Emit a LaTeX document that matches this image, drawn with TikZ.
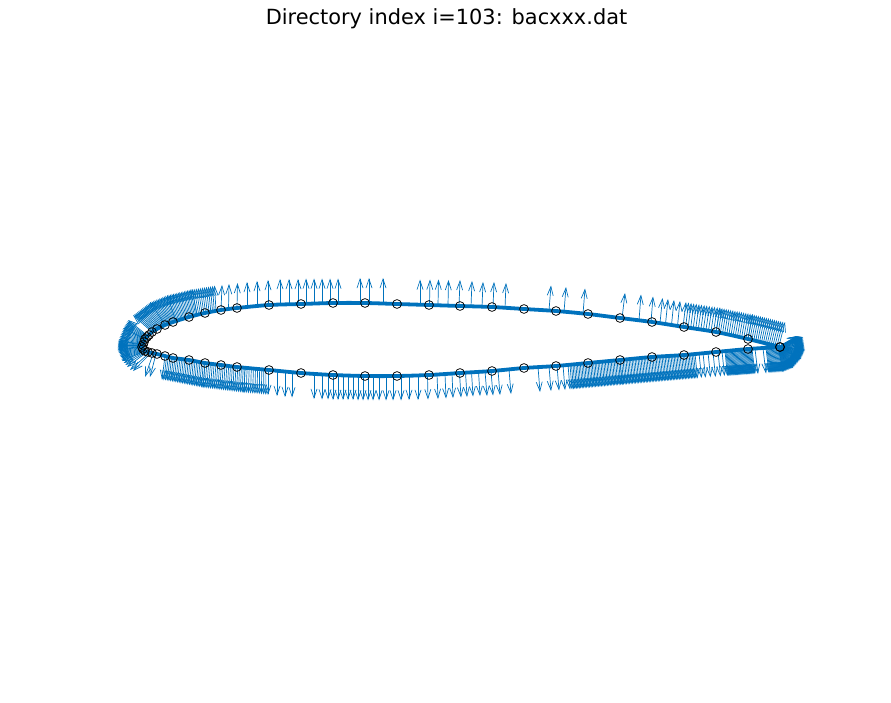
\documentclass[tikz,border=0pt]{standalone}
\usepackage{fontspec}
\setmainfont{DejaVu Sans}
\usetikzlibrary{arrows.meta}
\definecolor{mblue}{RGB}{0,114,189}
\tikzset{
 qarrow/.style={draw=mblue,line width=.7pt,-{Straight Barb[length=9pt,width=6pt,line width=.7pt]}},
 foil/.style={draw=mblue,line width=3.8pt,line join=round},
 mark circle/.style={draw=black,line width=.75pt,fill=none},
}
\newcommand\aseg[9]{%
 \foreach \i in {0,...,#9}{%
  \pgfmathsetmacro\tt{\i/#9}%
  \pgfmathsetmacro\ox{#1+(#5-#1)*\tt}%
  \pgfmathsetmacro\oy{#2+(#6-#2)*\tt}%
  \pgfmathsetmacro\vx{#3+(#7-#3)*\tt}%
  \pgfmathsetmacro\vy{#4+(#8-#4)*\tt}%
  \draw[qarrow] (\ox,\oy) -- ++(\vx,\vy);
 }}
\begin{document}
\begin{tikzpicture}[x=1pt,y=-1pt]
\useasboundingbox (0,0) rectangle (891,703);
\node[font=\fontsize{20.9}{24}\selectfont,text=black] (title) at (446.5,19) {Directory index i=103: bacxxx.dat};
% upper surface, dense leading edge
\aseg{152}{332}{-19}{-17}{165}{325}{-15}{-23}{13}
\aseg{165}{325}{-15}{-23}{176}{321}{-9}{-26}{11}
\aseg{176}{321}{-9}{-26}{197}{315}{-5}{-26}{16}
\aseg{197}{315}{-5}{-26}{216}{311}{-1.5}{-25.5}{11}
% upper surface, single arrows
\foreach \a/\b/\c/\d in {221/310.5/222/285,228.5/309/229/284,237/308/237.5/283,247/307/247/282,257/306/257/281,268/305/268/280,280/304.5/280/279,289/304/289/279,298/304/298/279,306/303.5/306/278.5,314/303/314/278.5,322/303/322/278.5,330/303/330/278.5,338/303/338/278.5,360/303/360/278,369/303/369/278,383/303.5/383/278,420/304.5/420/279.5,429.5/305/430/279.5,438/305/438.5/279.5,448/305.5/448.5/280,459/306/460/280,471/306.5/472/281,482/307/483/282,493/307.5/494/282,505/308/506/283,549/310.5/551/285.5,564/312/566/287,583/314/585/288.5,622/318.5/625/293,639/320.5/641/294.5,651/322/653/296.5,660/323/662.5/298,665.5/324/668/299,671.5/325/674/300,677.5/326/680/301}
 {\draw[qarrow] (\a,\b) -- (\c,\d);}
% upper surface, dense trailing edge
\aseg{683}{327}{3}{-25}{716}{332.5}{4}{-25}{13}
\aseg{716}{332.5}{4}{-25}{748}{339}{4.5}{-25}{15}
\aseg{748}{339}{4.5}{-25}{779}{346}{6}{-24}{16}
% leading edge fan
\aseg{148}{336}{-20}{-16}{145}{339}{-22}{-11}{6}
\aseg{145}{339}{-22}{-11}{143}{344}{-25}{-3}{8}
\aseg{143}{344}{-25}{-3}{142.5}{347}{-25}{3}{8}
\aseg{142.5}{347}{-25}{3}{145}{351}{-23}{10}{8}
\aseg{145}{351}{-23}{10}{147}{352}{-20}{15}{3}
\foreach \a/\b/\c/\d in {150/352.5/130/370,151/353/133/371,153/354/145/377,156/354/150/377}
 {\draw[qarrow] (\a,\b) -- (\c,\d);}
% lower surface, dense part
\aseg{165}{356}{-3}{24}{205}{363}{-2}{25}{24}
\aseg{205}{363}{-2}{25}{245}{368}{-1}{25}{22}
\aseg{245}{368}{-1}{25}{268}{370}{0}{25}{11}
% lower surface, single arrows
\foreach \a/\b/\c/\d in {277/371/277/396,285/372/285/397,292/372.5/292/397.5,314/374.5/314/399,322/375/322/399.5,328/375/328/399.5,333/375/333/400,338/375/338/400,343/375.5/343/400,348/375.5/348/400,353/375.5/353/400,358/376/358/400.5,363/376/363/400.5,368/376/368/400.5,373/376/373/400.5,379/376/379/400.5,386/376/386/400.5,393/376/393/400.5,401/376/401/400.5,409/375.5/409/400,418/375.5/418/400,427.5/375/428/399.5,437/374.5/438/399,445/374/446/398.5,452/373.5/453/398,459.5/373/461/397.5,465.5/372.5/467/397,471.5/372/473/396.5,478.5/371.5/480/396,485/371/487/396,491/371/493/395.5,498/370/500/395,509/369.5/511/394,538/367/540/392,549/366/551/391,557/365.5/559/390.5,563/365/565/390,568/364.5/570/389.5}
 {\draw[qarrow] (\a,\b) -- (\c,\d);}
% lower surface, aft part
\aseg{570}{364.5}{2}{25}{620}{360}{2.2}{25}{34}
\aseg{620}{360}{2.2}{25}{695}{353.5}{2.5}{25}{50}
\foreach \a/\b/\c/\d in {699/353/701.5/378,703/352.7/705.5/377.7,708/352.3/710.5/377.3,713/352/715.5/377,718/351.5/720.5/376.5,722/351/724.5/376}
 {\draw[qarrow] (\a,\b) -- (\c,\d);}
\aseg{725}{351}{2.5}{25}{752}{349}{3}{25}{30}
\foreach \a/\b/\c/\d in {755/349/758/374,763/348.5/766/373.5}
 {\draw[qarrow] (\a,\b) -- (\c,\d);}
\aseg{766}{348}{3}{25}{778}{347}{5}{25}{14}
% trailing edge fan
\aseg{778}{347}{5}{25}{778}{347}{15}{21}{12}
\aseg{778}{347}{15}{21}{778}{347}{23}{12}{12}
\aseg{778}{347}{23}{12}{778}{347}{27}{3}{12}
\aseg{778}{347}{27}{3}{778}{347}{25}{-10}{14}
\aseg{778}{347}{25}{-10}{778}{347}{19}{-11}{8}
% airfoil outline
\draw[foil] plot[smooth] coordinates {(780,347)(748,339)(716,332)(684,327)(652,322)(620,318)(588,314)(556,311)(524,309)(492,307)(460,306)(429,305)(397,304)(365,303)(333,303)(301,304)(269,305)(237,308)(221,310)(205,313)(189,317)(173,322)(165,325)(157,329)(152,332)(145,339)(143,345)(142,347)(145,351)(152,353)(157,354)(165,356)(173,358)(189,360)(205,363)(221,365)(237,367)(269,370)(301,373)(333,375)(365,376)(397,376)(429,375)(460,373)(492,371)(524,368)(556,366)(588,363)(620,360)(652,357)(684,355)(716,352)(748,349)(780,347)};
% sample points
\foreach \x/\y in {780/347,748/339,716/332,684/327,652/322,620/318,588/314,556/311,524/309,492/307,460/306,429/305,397/304,365/303,333/303,301/304,269/305,237/308,221/310,205/313,189/317,173/322,165/325,157/329,152/332,149/335,147/337,145/339,144/342,143/345,142/347,143/349,145/351,148/352,152/353,157/354,165/356,173/358,189/360,205/363,221/365,237/367,269/370,301/373,333/375,365/376,397/376,429/375,460/373,492/371,524/368,556/366,588/363,620/360,652/357,684/355,716/352,748/349,780/347}
 {\draw[mark circle] (\x,\y) circle (4.4);}
\end{tikzpicture}
\end{document}
